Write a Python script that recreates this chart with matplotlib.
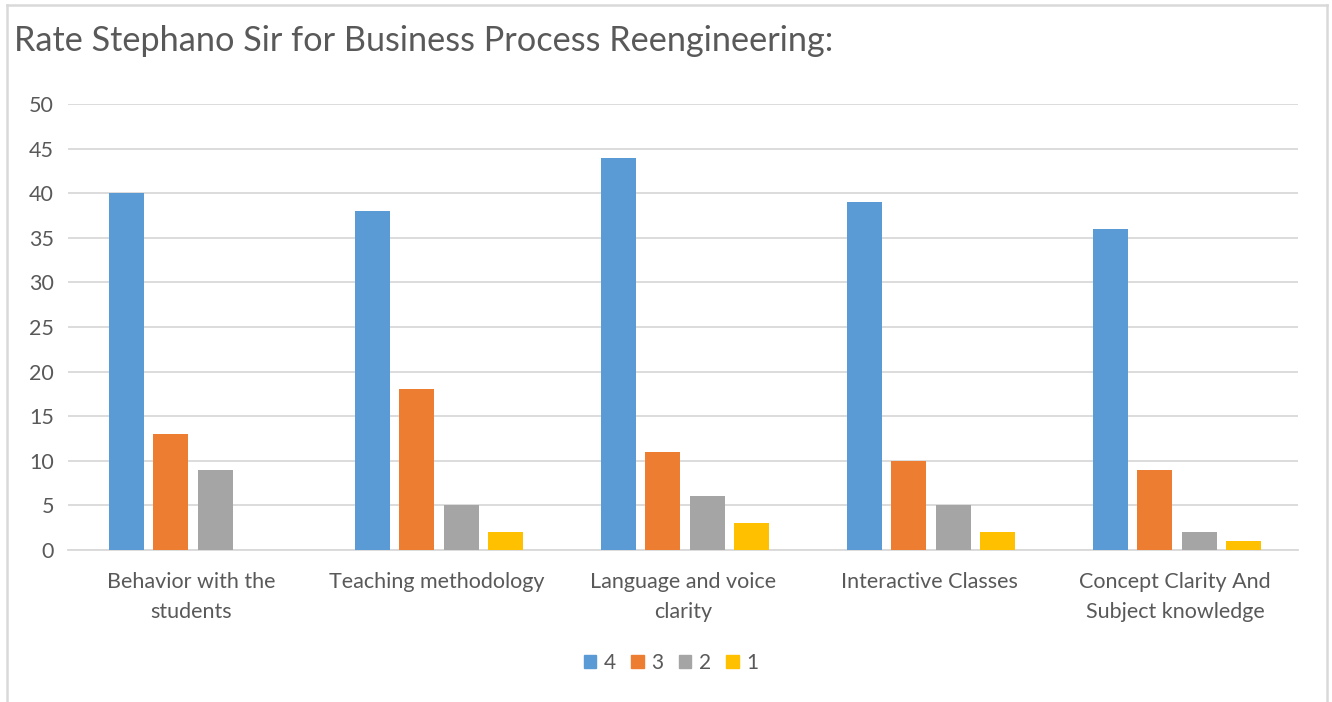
import matplotlib
matplotlib.use("Agg")
import matplotlib.pyplot as plt
import matplotlib.patches as mpatches
from matplotlib.lines import Line2D
import numpy as np

# ── data ──────────────────────────────────────────────────────────────────────
categories = [
    "Behavior with the\nstudents",
    "Teaching methodology",
    "Language and voice\nclarity",
    "Interactive Classes",
    "Concept Clarity And\nSubject knowledge",
]
series_names = ["4", "3", "2", "1"]
rating_4 = [40, 38, 44, 39, 36]
rating_3 = [13, 18, 11, 10, 9]
rating_2 = [9, 5, 6, 5, 2]
rating_1 = [0, 2, 3, 2, 1]
yticks = [0, 5, 10, 15, 20, 25, 30, 35, 40, 45, 50]

COLORS = ["#5B9BD5", "#ED7D31", "#A5A5A5", "#FFC000"]
TEXT = "#595959"
GRID = "#D9D9D9"

plt.rcParams["font.family"] = ["Lato", "DejaVu Sans"]

fig = plt.figure(figsize=(13.32, 7.02), dpi=100)
ax = fig.add_axes([68 / 1332, 152 / 702, 1230 / 1332, 446 / 702])

x = np.arange(len(categories))
step = 0.181
width = 0.142
for i, (vals, c) in enumerate(zip([rating_4, rating_3, rating_2, rating_1], COLORS)):
    ax.bar(x + (i - 1.5) * step + 0.008, vals, width=width, color=c, zorder=3)

ax.set_xlim(-0.5, len(categories) - 0.5)
ax.set_ylim(0, 50)
ax.set_yticks(yticks)
ax.yaxis.grid(True, color=GRID, linewidth=1.3, zorder=0)
ax.set_axisbelow(True)
for s in ["top", "right", "left"]:
    ax.spines[s].set_visible(False)
ax.spines["bottom"].set_color(GRID)
ax.spines["bottom"].set_linewidth(1.3)
ax.tick_params(axis="both", length=0, labelsize=15.5, colors=TEXT)
ax.tick_params(axis="y", pad=10)
ax.tick_params(axis="x", pad=16)
ax.set_xticks(x)
ax.set_xticklabels(categories, linespacing=1.62, va="top")

# title
fig.text(14 / 1332, 1 - 41 / 702, "Rate Stephano Sir for Business Process Reengineering:",
         fontsize=24.7, color=TEXT, ha="left", va="center")

# legend
handles = [mpatches.Patch(color=c, label=n) for c, n in zip(COLORS, series_names)]
fig.legend(handles=handles, loc="center", bbox_to_anchor=(671 / 1332, 1 - 663 / 702),
           ncol=4, frameon=False, fontsize=15, labelcolor=TEXT,
           handlelength=0.6, handleheight=0.6, handletextpad=0.35, columnspacing=0.75)

# chart border
for xs, ys in [((7, 7), (702, 5)), ((7, 1327), (5, 5)), ((1327, 1327), (5, 702))]:
    fig.add_artist(Line2D([a / 1332 for a in xs], [1 - b / 702 for b in ys],
                          color=GRID, linewidth=1.8, transform=fig.transFigure))

fig.savefig("out.png", dpi=100)
